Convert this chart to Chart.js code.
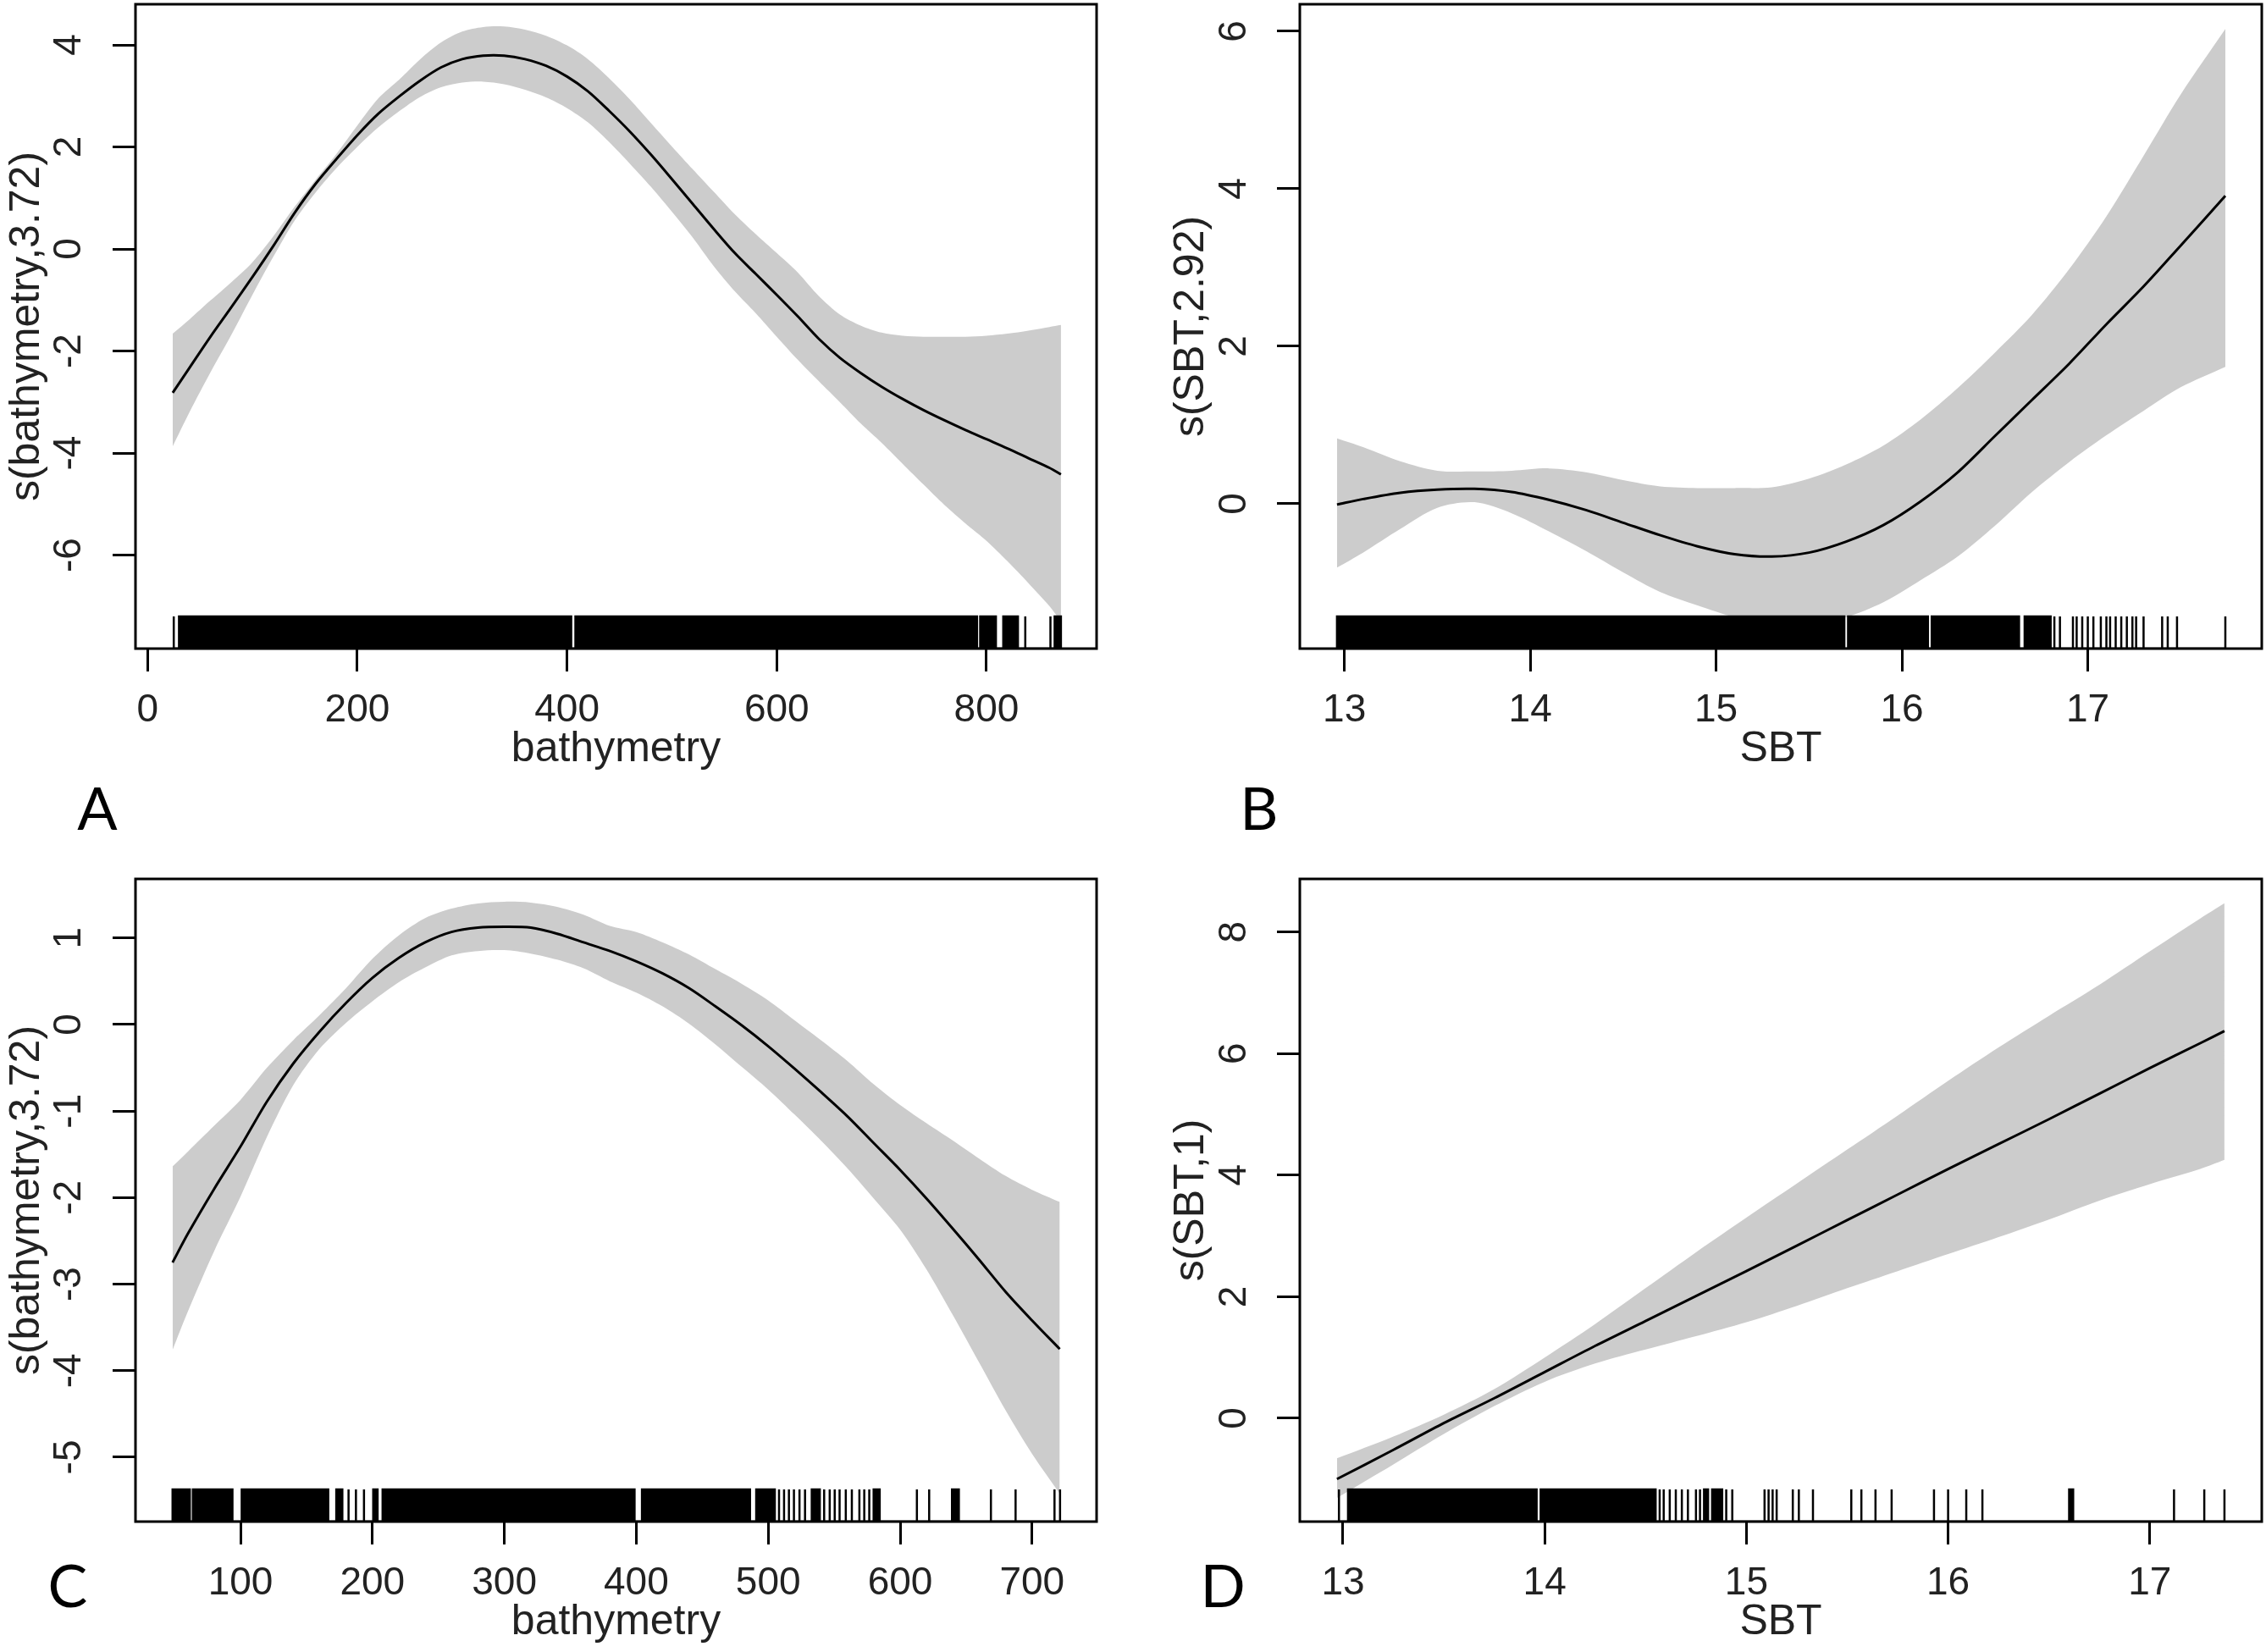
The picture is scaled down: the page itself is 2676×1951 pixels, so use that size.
<!DOCTYPE html>
<html lang="en">
<head>
    <meta charset="UTF-8">
    <title>GAM smooth terms: bathymetry and SBT</title>
    <script src="https://cdn.jsdelivr.net/npm/chart.js"></script>
    <style>
        body {
            margin: 0;
            background: #fff;
            width: 2676px;
            height: 1951px;
            position: relative;
            overflow: hidden;
        }
        canvas { position: absolute; }
        .tag {
            position: absolute;
            font-family: Lato, "Open Sans", sans-serif;
            font-size: 70px;
            line-height: 1;
            color: #000;
            transform: translate(-50%, -50%);
        }
    </style>
</head>
<body>
    <canvas id="chartA" width="1338" height="1000" style="left:0;top:0"></canvas>
    <canvas id="chartB" width="1338" height="1000" style="left:1338px;top:0"></canvas>
    <canvas id="chartC" width="1338" height="951" style="left:0;top:1000px"></canvas>
    <canvas id="chartD" width="1338" height="951" style="left:1338px;top:1000px"></canvas>

    <div class="tag" style="left:115px;top:953px">A</div>
    <div class="tag" style="left:1487px;top:953px">B</div>
    <div class="tag" style="left:80px;top:1871px">C</div>
    <div class="tag" style="left:1444px;top:1871px">D</div>

    <script>
        // ---- A: s(bathymetry,3.72) ----
        const bathyA = [24, 40, 60, 80, 100, 120, 140, 160, 180, 200, 220, 240, 260, 280, 300, 320, 340, 360, 380, 400, 420, 440,
            460, 480, 500, 520, 540, 560, 580, 600, 620, 640, 660, 680, 700, 720, 740, 760, 780, 800, 820, 840, 860, 871];
        const fitA = [-2.82, -2.33, -1.72, -1.14, -0.55, 0.06, 0.70, 1.27, 1.76, 2.23, 2.65, 2.99, 3.30, 3.56, 3.72, 3.79, 3.79, 3.72, 3.59, 3.38, 3.09, 2.71,
            2.30, 1.85, 1.37, 0.88, 0.39, -0.08, -0.49, -0.90, -1.32, -1.76, -2.13, -2.43, -2.70, -2.94, -3.16, -3.36, -3.55, -3.73, -3.91, -4.10, -4.29, -4.42];
        const upperA = [-1.66, -1.38, -1.01, -0.65, -0.26, 0.25, 0.82, 1.35, 1.86, 2.42, 2.95, 3.32, 3.72, 4.05, 4.26, 4.35, 4.36, 4.30, 4.18, 3.99, 3.72, 3.35,
            2.93, 2.47, 2.01, 1.56, 1.12, 0.68, 0.29, -0.08, -0.46, -0.92, -1.28, -1.50, -1.64, -1.70, -1.72, -1.72, -1.72, -1.70, -1.66, -1.60, -1.53, -1.49];
        const lowerA = [-3.87, -3.20, -2.42, -1.68, -0.90, -0.15, 0.55, 1.10, 1.58, 2.00, 2.38, 2.70, 2.98, 3.17, 3.26, 3.28, 3.23, 3.12, 2.97, 2.76, 2.48, 2.10,
            1.67, 1.22, 0.73, 0.22, -0.34, -0.83, -1.26, -1.72, -2.17, -2.59, -3.00, -3.42, -3.80, -4.21, -4.62, -5.02, -5.38, -5.72, -6.12, -6.55, -7.00, -7.30];
        // rug: single observations or [from, to] runs where ticks merge
        const rugA = [25, [30, 404], [408, 791], [794, 809], [816, 830], 837, 861, [865, 871]];
        const xTicksA = [0, 200, 400, 600, 800];
        const yTicksA = [-6, -4, -2, 0, 2, 4];

        // ---- B: s(SBT,2.92) ----
        const sbtB = [12.96, 13.1, 13.3, 13.5, 13.7, 13.9, 14.1, 14.3, 14.5, 14.7, 14.9, 15.1, 15.3, 15.5, 15.7, 15.9,
            16.1, 16.3, 16.5, 16.7, 16.9, 17.1, 17.3, 17.5, 17.74];
        const fitB = [-0.01, 0.06, 0.14, 0.18, 0.19, 0.15, 0.05, -0.08, -0.24, -0.40, -0.54, -0.64, -0.67, -0.62, -0.48, -0.27,
            0.03, 0.40, 0.86, 1.32, 1.78, 2.28, 2.76, 3.28, 3.91];
        const upperB = [0.83, 0.72, 0.54, 0.42, 0.41, 0.42, 0.45, 0.40, 0.30, 0.22, 0.20, 0.20, 0.21, 0.32, 0.50, 0.74,
            1.07, 1.47, 1.92, 2.40, 2.98, 3.65, 4.42, 5.20, 6.03];
        const lowerB = [-0.81, -0.62, -0.32, -0.05, 0.02, -0.12, -0.35, -0.60, -0.87, -1.12, -1.29, -1.44, -1.53, -1.54, -1.44, -1.25,
            -0.97, -0.67, -0.28, 0.15, 0.53, 0.87, 1.18, 1.48, 1.74];
        const rugB = [[12.96, 15.69], [15.71, 16.14], [16.16, 16.19], [16.20, 16.63], [16.66, 16.80], 16.82, 16.85, 16.92, 16.94,
            16.97, 17.00, 17.03, 17.07, 17.10, 17.12, 17.15, 17.18, 17.21, 17.24, 17.26, 17.30, 17.40, 17.43, 17.48, 17.74];
        const xTicksB = [13, 14, 15, 16, 17];
        const yTicksB = [0, 2, 4, 6];

        // ---- C: s(bathymetry,3.72) ----
        const bathyC = [48.5, 60, 80, 100, 120, 140, 160, 180, 200, 220, 240, 260, 280, 300, 320, 340, 360, 380,
            400, 420, 440, 460, 480, 500, 520, 540, 560, 580, 600, 620, 640, 660, 680, 700, 721];
        const fitC = [-2.75, -2.42, -1.90, -1.41, -0.89, -0.45, -0.08, 0.25, 0.54, 0.77, 0.95, 1.07, 1.12, 1.13, 1.12, 1.05, 0.95, 0.85,
            0.73, 0.59, 0.42, 0.21, -0.01, -0.25, -0.51, -0.78, -1.06, -1.37, -1.68, -2.01, -2.36, -2.72, -3.09, -3.42, -3.75];
        const upperC = [-1.64, -1.47, -1.17, -0.87, -0.50, -0.18, 0.11, 0.42, 0.76, 1.03, 1.23, 1.34, 1.40, 1.42, 1.41, 1.36, 1.27, 1.14,
            1.07, 0.95, 0.81, 0.64, 0.47, 0.28, 0.05, -0.18, -0.42, -0.69, -0.93, -1.14, -1.34, -1.55, -1.75, -1.91, -2.05];
        const lowerC = [-3.76, -3.32, -2.62, -1.99, -1.30, -0.70, -0.28, 0.02, 0.27, 0.49, 0.66, 0.80, 0.85, 0.86, 0.82, 0.75, 0.65, 0.50,
            0.37, 0.21, 0.01, -0.23, -0.49, -0.75, -1.04, -1.34, -1.66, -2.01, -2.37, -2.83, -3.36, -3.91, -4.46, -4.96, -5.42];
        const rugC = [[48.5, 61.6], [63.9, 93.9], [100.9, 166.5], [172.6, 177.2], 181.9, 187.5, 193.6, [200.6, 203.9], [207.7, 398.7],
            [404.3, 486.2], [490.9, 505], 508.2, 512, 515.7, 519.5, 523.7, 527.9, [533, 539.1], 542.4, 546.6, 550.4, 554.1, 558.8,
            563.4, 569.1, 572.8, 576.6, [579.9, 584.5], 612.7, 622, [639.3, 644.5], 668.8, 687.5, 717, 721.2];
        const xTicksC = [100, 200, 300, 400, 500, 600, 700];
        const yTicksC = [-5, -4, -3, -2, -1, 0, 1];

        // ---- D: s(SBT,1) ----
        const sbtD = [12.97, 13.25, 13.5, 13.75, 14.0, 14.25, 14.5, 14.75, 15.0, 15.25, 15.5, 15.75, 16.0, 16.25, 16.5, 16.75, 17.0, 17.25, 17.37];
        const fitD = [-1.00, -0.52, -0.08, 0.33, 0.76, 1.19, 1.60, 2.01, 2.42, 2.84, 3.26, 3.68, 4.10, 4.51, 4.92, 5.34, 5.76, 6.17, 6.37];
        const upperD = [-0.66, -0.30, 0.06, 0.48, 1.00, 1.55, 2.14, 2.73, 3.30, 3.86, 4.42, 4.98, 5.55, 6.10, 6.62, 7.13, 7.68, 8.22, 8.47];
        const lowerD = [-1.31, -0.76, -0.26, 0.20, 0.60, 0.90, 1.13, 1.35, 1.58, 1.85, 2.14, 2.42, 2.70, 2.98, 3.27, 3.58, 3.85, 4.10, 4.25];
        const rugD = [12.98, [13.025, 13.96], [13.98, 14.55], 14.57, 14.59, 14.62, 14.65, 14.68, 14.71, 14.75, 14.77, [14.79, 14.81],
            [14.83, 14.88], 14.90, 14.93, 15.09, 15.11, 15.13, 15.15, 15.23, 15.26, 15.33, 15.52, 15.57, 15.64, 15.72, 15.93,
            16.00, 16.09, 16.17, [16.60, 16.62], 17.12, 17.27, 17.37];
        const xTicksD = [13, 14, 15, 16, 17];
        const yTicksD = [0, 2, 4, 6, 8];

        const BAND = '#cccccc';
        const TEXT = '#222';
        const FONT = 'Liberation Sans, Arial, sans-serif';

        // panel layout: axis limits follow R's 4% extension of the data range
        const panels = [
            { id: 'chartA', xs: bathyA, fit: fitA, upper: upperA, lower: lowerA, rug: rugA, xTicks: xTicksA, yTicks: yTicksA,
              xMin: -11.5, xMax: 905, yMin: -7.834, yMax: 4.797, xTitle: 'bathymetry', yTitle: 's(bathymetry,3.72)',
              pad: { left: 0, top: 5, right: 43, bottom: 85 }, yPad: 30 },
            { id: 'chartB', xs: sbtB, fit: fitB, upper: upperB, lower: lowerB, rug: rugB, xTicks: xTicksB, yTicks: yTicksB,
              xMin: 12.76, xMax: 17.936, yMin: -1.839, yMax: 6.344, xTitle: 'SBT', yTitle: 's(SBT,2.92)',
              pad: { left: 37, top: 5, right: 5, bottom: 85 }, yPad: 37 },
            { id: 'chartC', xs: bathyC, fit: fitC, upper: upperC, lower: lowerC, rug: rugC, xTicks: xTicksC, yTicks: yTicksC,
              xMin: 20.4, xMax: 748.9, yMin: -5.744, yMax: 1.683, xTitle: 'bathymetry', yTitle: 's(bathymetry,3.72)',
              pad: { left: 0, top: 38, right: 43, bottom: 5 }, yPad: 30 },
            { id: 'chartD', xs: sbtD, fit: fitD, upper: upperD, lower: lowerD, rug: rugD, xTicks: xTicksD, yTicks: yTicksD,
              xMin: 12.786, xMax: 17.555, yMin: -1.70, yMax: 8.872, xTitle: 'SBT', yTitle: 's(SBT,1)',
              pad: { left: 37, top: 38, right: 5, bottom: 5 }, yPad: 37 }
        ];

        // rug drawn as a filled outline along the bottom of the plot region
        function rugPoints(rug, lo, hi) {
            const top = lo + (hi - lo) * 0.05;
            const pts = [];
            rug.forEach(r => {
                const [a, b] = Array.isArray(r) ? r : [r, r];
                pts.push({ x: a, y: lo }, { x: a, y: top }, { x: b, y: top }, { x: b, y: lo });
            });
            return pts;
        }

        const frame = {
            id: 'frame',
            afterDatasetsDraw(chart) {
                const { ctx, chartArea: a } = chart;
                ctx.save();
                ctx.strokeStyle = '#000';
                ctx.lineWidth = 3;
                ctx.strokeRect(a.left, a.top, a.right - a.left, a.bottom - a.top);
                ctx.restore();
            }
        };

        function noPad(s) {
            s.paddingLeft = 0;
            s.paddingRight = 0;
            s.paddingTop = 0;
            s.paddingBottom = 0;
        }

        function axisGrid() {
            return {
                display: true,
                drawOnChartArea: false,
                drawTicks: true,
                tickLength: 27,
                tickWidth: 3,
                tickColor: '#000',
                color: '#000'
            };
        }

        function paintPanel(p) {
            const pts = ys => p.xs.map((x, i) => ({ x: x, y: ys[i] }));

            new Chart(document.getElementById(p.id), {
                type: 'line',
                data: {
                    datasets: [
                        {
                            label: 'rug',
                            data: rugPoints(p.rug, p.yMin, p.yMax),
                            borderColor: '#000',
                            backgroundColor: '#000',
                            borderWidth: 2.5,
                            fill: 'start',
                            tension: 0,
                            pointRadius: 0
                        },
                        {
                            label: 'fit',
                            data: pts(p.fit),
                            borderColor: '#000',
                            borderWidth: 3,
                            fill: false,
                            tension: 0.3,
                            pointRadius: 0
                        },
                        {
                            label: 'upper',
                            data: pts(p.upper),
                            borderColor: 'rgba(0,0,0,0)',
                            borderWidth: 0,
                            backgroundColor: BAND,
                            fill: '+1',
                            tension: 0.3,
                            pointRadius: 0
                        },
                        {
                            label: 'lower',
                            data: pts(p.lower),
                            borderColor: 'rgba(0,0,0,0)',
                            borderWidth: 0,
                            fill: false,
                            tension: 0.3,
                            pointRadius: 0
                        }
                    ]
                },
                options: {
                    responsive: false,
                    animation: false,
                    events: [],
                    layout: { padding: p.pad, autoPadding: false },
                    plugins: {
                        legend: { display: false },
                        tooltip: { enabled: false }
                    },
                    scales: {
                        x: {
                            type: 'linear',
                            position: 'bottom',
                            min: p.xMin,
                            max: p.xMax,
                            bounds: 'data',
                            afterBuildTicks: s => { s.ticks = p.xTicks.map(v => ({ value: v })); },
                            afterFit: s => { s.height = 149; noPad(s); },
                            grid: axisGrid(),
                            border: { display: false },
                            ticks: {
                                autoSkip: false,
                                minRotation: 0,
                                maxRotation: 0,
                                padding: 19,
                                color: TEXT,
                                font: { family: FONT, size: 46 }
                            },
                            title: {
                                display: true,
                                text: p.xTitle,
                                color: TEXT,
                                padding: 0,
                                font: { family: FONT, size: 50 }
                            }
                        },
                        y: {
                            type: 'linear',
                            position: 'left',
                            min: p.yMin,
                            max: p.yMax,
                            bounds: 'data',
                            afterBuildTicks: s => { s.ticks = p.yTicks.map(v => ({ value: v })); },
                            afterFit: s => { s.width = 160; noPad(s); },
                            grid: axisGrid(),
                            border: { display: false },
                            ticks: {
                                autoSkip: false,
                                minRotation: 90,
                                maxRotation: 90,
                                crossAlign: 'center',
                                padding: p.yPad,
                                color: TEXT,
                                font: { family: FONT, size: 46 }
                            },
                            title: {
                                display: true,
                                text: p.yTitle,
                                color: TEXT,
                                padding: { top: 2, bottom: 0 },
                                font: { family: FONT, size: 50 }
                            }
                        }
                    }
                },
                plugins: [frame]
            });
        }

        panels.forEach(paintPanel);
    </script>
</body>
</html>
